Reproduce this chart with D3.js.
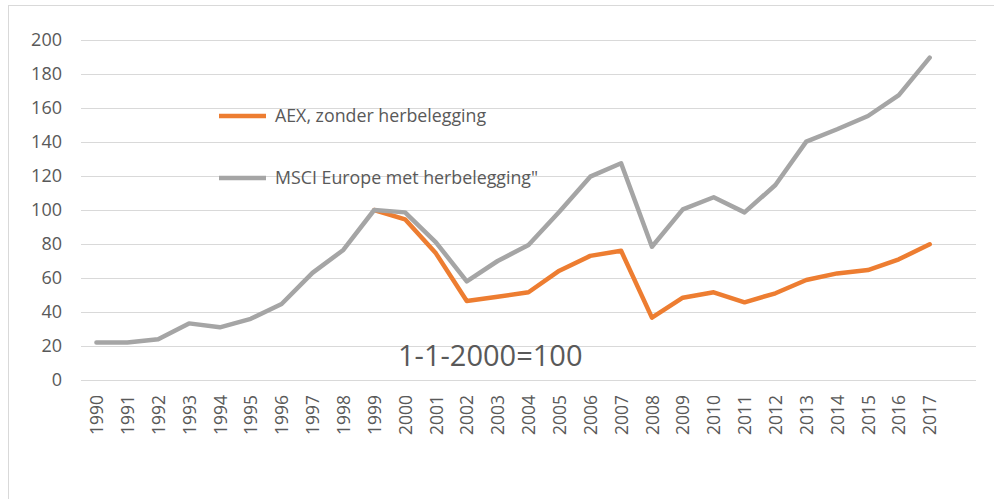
<!DOCTYPE html>
<html>
<head>
<meta charset="utf-8">
<script src="https://cdn.jsdelivr.net/npm/d3@7"></script>
<style>
  body { margin: 0; background: #fff; }
  text { font-family: "Open Sans", "Liberation Sans", sans-serif; fill: #595959; }
</style>
</head>
<body>
<div id="chart"></div>
<script>
var years = ["1990","1991","1992","1993","1994","1995","1996","1997","1998","1999",
  "2000","2001","2002","2003","2004","2005","2006","2007","2008","2009",
  "2010","2011","2012","2013","2014","2015","2016","2017"];

var aex = [null, null, null, null, null, null, null, null, null, 100,
  94.5, 74.5, 46.5, 49, 51.6, 64.3, 73, 76, 36.7, 48.4,
  51.6, 45.7, 51, 58.8, 62.7, 64.7, 71, 79.8];

var msci = [22, 22, 24, 33.3, 31, 36, 44.7, 63, 76.5, 100,
  98.6, 81, 58, 70, 79.4, 99, 119.6, 127.5, 78.4, 100.4,
  107.5, 98.6, 114.7, 140.2, 147.5, 155.3, 167.6, 189.6];

var yTicks = [0, 20, 40, 60, 80, 100, 120, 140, 160, 180, 200];
var seriesNames = ["AEX, zonder herbelegging", "MSCI Europe met herbelegging\""];
var colors = ["#ED7D31", "#A5A5A5"];

var svgWidth = 994;
var svgHeight = 499;

var svg = d3.select("#chart")
  .append("svg")
  .attr("width", svgWidth)
  .attr("height", svgHeight);

// outer chart border (right and bottom fall outside the picture)
svg.append("rect")
  .attr("x", 8.5)
  .attr("y", 5.5)
  .attr("width", 1000)
  .attr("height", 600)
  .attr("fill", "none")
  .attr("stroke", "#d9d9d9");

var plotLeft = 81, plotRight = 976;
var step = (plotRight - plotLeft) / (years.length + 1);

var x = d3.scalePoint()
  .domain(years)
  .range([plotLeft + step / 2, plotLeft + step / 2 + step * (years.length - 1)]);

var y = d3.scaleLinear()
  .domain([0, 200])
  .range([380, 40]);

// gridlines
svg.append("g")
  .selectAll("line")
  .data(yTicks)
  .enter()
  .append("line")
  .attr("x1", plotLeft)
  .attr("x2", plotRight)
  .attr("y1", d => Math.round(y(d)) + 0.5)
  .attr("y2", d => Math.round(y(d)) + 0.5)
  .attr("stroke", "#d9d9d9")
  .attr("stroke-width", 1);

// y axis labels
var leftAxis = d3.axisLeft(y).tickValues(yTicks).tickSize(0).tickPadding(0);
var yAxis = svg.append("g")
  .attr("transform", "translate(62,0)")
  .call(leftAxis);
yAxis.select(".domain").remove();
yAxis.selectAll("text")
  .style("font-size", "18px")
  .attr("fill", "#595959");

// x axis labels, rotated
var bottomAxis = d3.axisBottom(x).tickSize(0).tickPadding(0);
var xAxis = svg.append("g")
  .attr("transform", "translate(0,395)")
  .call(bottomAxis);
xAxis.select(".domain").remove();
xAxis.selectAll("text")
  .style("font-size", "17.5px")
  .attr("fill", "#595959")
  .attr("transform", "rotate(-90)")
  .attr("text-anchor", "end")
  .attr("x", 0)
  .attr("y", 0)
  .attr("dx", 0)
  .attr("dy", "0.35em");

var line = d3.line()
  .defined(d => d.v !== null)
  .x(d => x(d.year))
  .y(d => y(d.v));

var seriesData = [aex, msci].map(vals => years.map((yr, i) => ({ year: yr, v: vals[i] })));

svg.selectAll(".series")
  .data(seriesData)
  .enter()
  .append("path")
  .attr("class", "series")
  .attr("d", line)
  .attr("fill", "none")
  .attr("stroke", (d, i) => colors[i])
  .attr("stroke-width", 4.5)
  .attr("stroke-linejoin", "round")
  .attr("stroke-linecap", "round");

// legend
var legendYs = [116, 178];
var legend = svg.append("g");
seriesNames.forEach(function(name, i) {
  legend.append("line")
    .attr("x1", 219)
    .attr("x2", 266)
    .attr("y1", legendYs[i])
    .attr("y2", legendYs[i])
    .attr("stroke", colors[i])
    .attr("stroke-width", 4.5);
  legend.append("text")
    .attr("x", 275)
    .attr("y", legendYs[i])
    .attr("dy", "0.35em")
    .style("font-size", "17.8px")
    .text(name);
});

// annotation
svg.append("text")
  .attr("x", 398)
  .attr("y", 366)
  .style("font-size", "29px")
  .text("1-1-2000=100");
</script>
</body>
</html>
